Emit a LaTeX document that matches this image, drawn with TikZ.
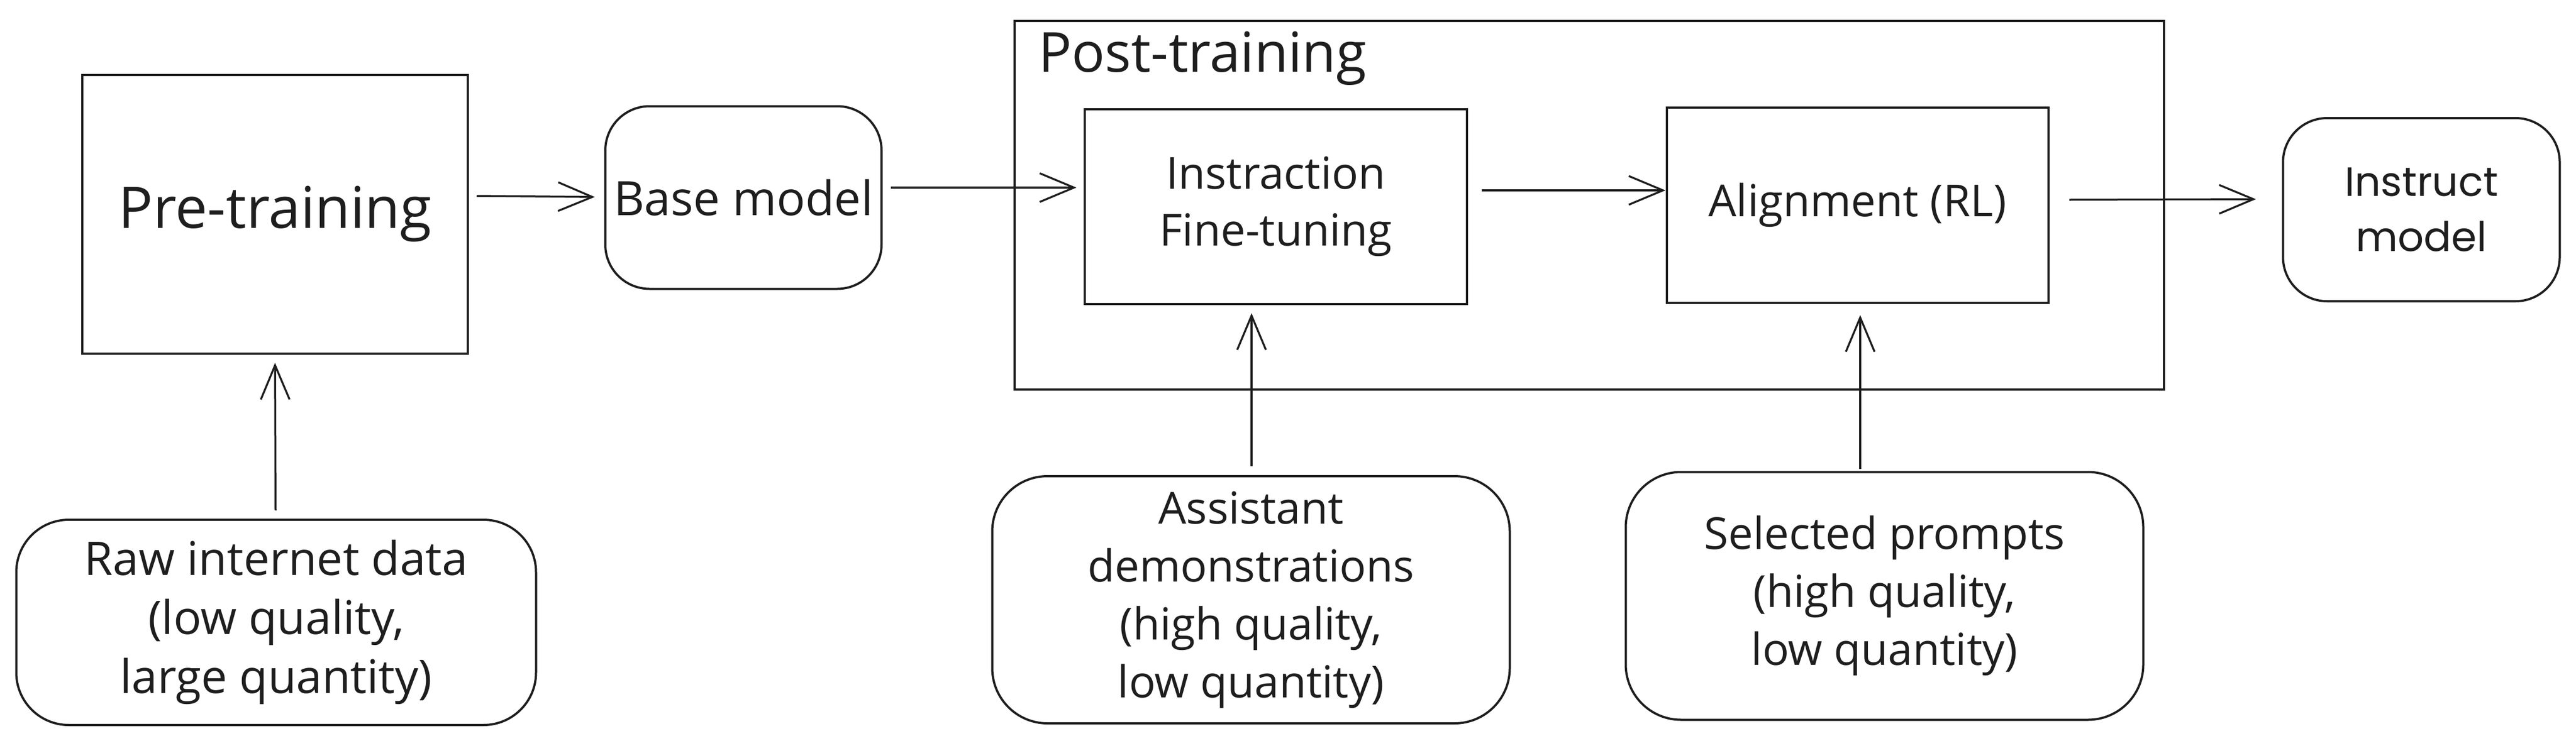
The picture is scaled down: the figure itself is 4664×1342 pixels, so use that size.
\documentclass[tikz,border=0pt]{standalone}
\usepackage{fontspec}
\setmainfont{Open Sans}
\newfontfamily\altfont{Poppins}
\usetikzlibrary{arrows.meta}
\definecolor{ink}{HTML}{1E1E1E}
\begin{document}
\begin{tikzpicture}[x=1pt,y=-1pt,
  box/.style={draw=ink, line width=4pt, inner sep=0pt, align=center, text=ink},
  rbox/.style={box, rounded corners=80pt},
  arr/.style={draw=ink, line width=3.5pt, -{Straight Barb[length=62pt,width=52pt,line width=3.5pt]}},
  fbig/.style={font=\fontsize{100}{118}\selectfont},
  fmid/.style={font=\fontsize{86}{106}\selectfont},
  fnorm/.style={font=\fontsize{80}{105}\selectfont},
]
\fill[white] (0,0) rectangle (4664,1342);
\useasboundingbox (0,0) rectangle (4664,1342);

% nodes
\node[box, minimum width=698pt, minimum height=505pt, font=\fontsize{104}{118}\selectfont] (pre) at (498,388) {Pre-training};
\node[rbox, minimum width=500pt, minimum height=331pt, fmid] (base) at (1346,358) {Base model};
\node[rbox, rounded corners=95pt, minimum width=941pt, minimum height=372pt, font=\fontsize{84}{107}\selectfont] (raw) at (500,1128) {Raw internet data\\(low quality,\\large quantity)};

\node[box, minimum width=2081pt, minimum height=668pt] (post) at (2877.5,372) {};
\node[anchor=base west, inner sep=0pt, text=ink, fbig] (posttitle) at (1880,130) {Post-training};

\node[box, minimum width=692pt, minimum height=353pt, font=\fontsize{80}{103}\selectfont] (ift) at (2310,374) {Instraction\\Fine-tuning};
\node[box, minimum width=691pt, minimum height=354pt, fnorm] (align) at (3363,372) {Alignment (RL)};
\node[rbox, minimum width=501pt, minimum height=332pt, font=\altfont\fontsize{74}{100}\selectfont] (inst) at (4384,380) {Instruct\\model};

\node[rbox, rounded corners=100pt, minimum width=937pt, minimum height=448pt, fnorm] (asst) at (2265,1087) {Assistant\\demonstrations\\(high quality,\\low quantity)};
\node[rbox, rounded corners=100pt, minimum width=937pt, minimum height=449pt, fnorm] (sel) at (3412,1080) {Selected prompts\\(high quality,\\low quantity)};

% connectors
\draw[arr] ([xshift=14pt,yshift=33pt]pre.east) -- ([xshift=-17pt,yshift=1pt]base.west);
\draw[arr] ([xshift=15pt,yshift=18pt]base.east) -- ([xshift=-13pt,yshift=34pt]ift.west);
\draw[arr] ([xshift=25pt,yshift=29pt]ift.east) -- ([xshift=0pt,yshift=27pt]align.west);
\draw[arr] ([xshift=36pt,yshift=10pt]align.east) -- ([xshift=-47pt,yshift=19pt]inst.west);
\draw[arr] ([xshift=-1pt,yshift=15pt]raw.north) -- ([yshift=-15pt]pre.south);
\draw[arr] ([xshift=1pt,yshift=16pt]asst.north) -- ([xshift=-44pt,yshift=-15pt]ift.south);
\draw[arr] ([xshift=-44pt,yshift=4pt]sel.north) -- ([xshift=5pt,yshift=-20pt]align.south);
\end{tikzpicture}
\end{document}
